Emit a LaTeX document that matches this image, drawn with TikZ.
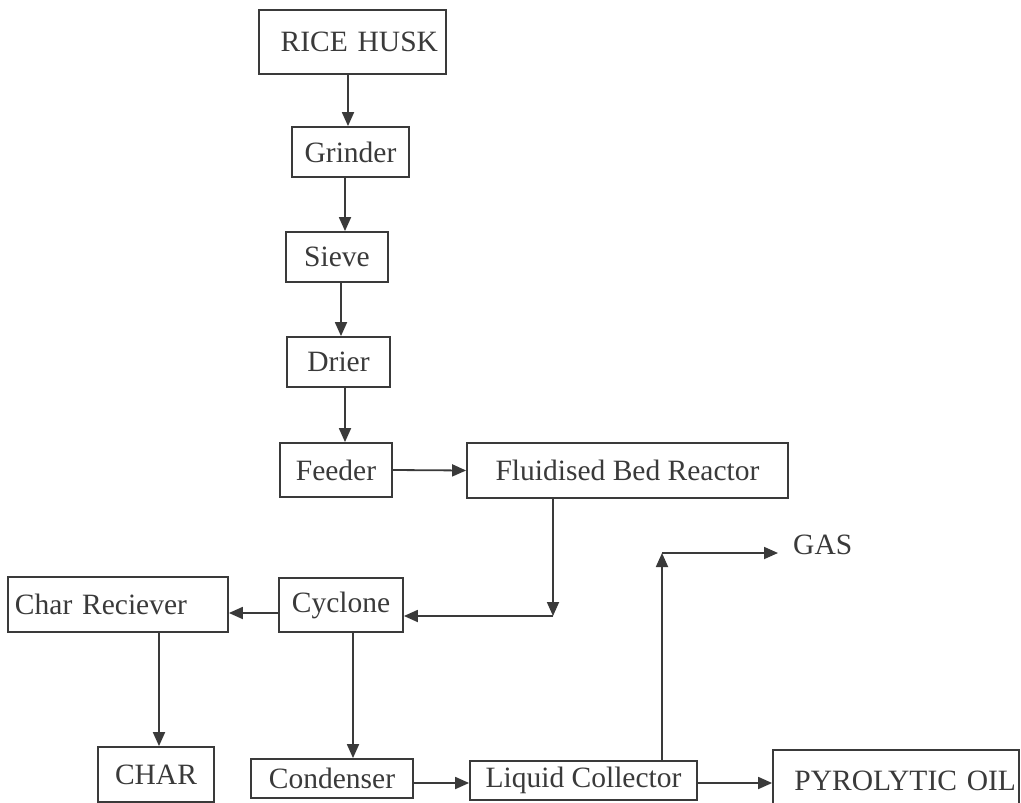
\documentclass[tikz,border=0pt]{standalone}
\usepackage{fontspec}
\setmainfont{Liberation Serif}
\usetikzlibrary{arrows.meta}
\definecolor{ink}{RGB}{58,58,58}
\begin{document}
\begin{tikzpicture}[x=1pt,y=-1pt,
  box/.style={draw=ink, line width=1.8pt, inner sep=0pt, text=ink, font=\fontsize{29.5}{34}\selectfont},
  conn/.style={draw=ink, line width=1.8pt, -{Triangle[length=14pt,width=12pt]}},
  lbl/.style={text=ink, inner sep=0pt, font=\fontsize{29.5}{34}\selectfont}]
\clip (0,0) rectangle (1021,803);
\fill[white] (0,0) rectangle (1021,803);

% boxes
\node[box, minimum height=64pt, text width=171pt, inner xsep=8pt, align=right] (rice) at (352.5,42) {RICE HUSK};
\node[box, minimum width=117pt, minimum height=50pt] (grinder) at (350.5,152) {Grinder};
\node[box, minimum width=102pt, minimum height=50pt] (sieve) at (337,257) {Sieve};
\node[box, minimum width=103pt, minimum height=50pt] (drier) at (338.5,362) {Drier};
\node[box, minimum width=112pt, minimum height=54pt] (feeder) at (336,470) {Feeder};
\node[box, minimum width=321pt, minimum height=55pt] (fbr) at (627.5,470.5) {Fluidised Bed Reactor};
\node[box, minimum width=124pt, minimum height=54pt] (cyc) at (341,605) {Cyclone};
\node[box, minimum height=55pt, text width=206pt, inner xsep=7pt, align=left] (charR) at (118,604.5) {Char Reciever};
\node[box, minimum width=116pt, minimum height=55pt] (charbox) at (156,774.5) {CHAR};
\node[box, minimum width=162pt, minimum height=39pt] (cond) at (332,778.5) {Condenser};
\node[box, minimum width=227pt, minimum height=39pt] (lc) at (583.5,780.5) {Liquid Collector};
\node[box, minimum height=62pt, text width=240pt, inner xsep=3pt, align=right] (pyro) at (896,781) {PYROLYTIC OIL};
\node[lbl, anchor=west] (gas) at (793,545) {GAS};

% guide coordinates
\coordinate (a1) at (348,0);
\coordinate (a2) at (345,0);
\coordinate (a3) at (341,0);
\coordinate (a4) at (345,0);
\coordinate (c1) at (553,616);
\coordinate (h1) at (0,613);
\coordinate (a5) at (159,0);
\coordinate (a6) at (353,0);
\coordinate (h2) at (0,783);
\coordinate (g1) at (662,553);
\coordinate (gt) at (778,553);

% connectors
\draw[conn] (rice.south -| a1) -- (grinder.north -| a1);
\draw[conn] (grinder.south -| a2) -- (sieve.north -| a2);
\draw[conn] (sieve.south -| a3) -- (drier.north -| a3);
\draw[conn] (drier.south -| a4) -- (feeder.north -| a4);
\draw[conn] (feeder.east) -- (fbr.west);
\draw[conn] (fbr.south -| c1) -- (c1);
\draw[conn] (c1) -- (c1 -| cyc.east);
\draw[conn] (cyc.west |- h1) -- (charR.east |- h1);
\draw[conn] (charR.south -| a5) -- (charbox.north -| a5);
\draw[conn] (cyc.south -| a6) -- (cond.north -| a6);
\draw[conn] (cond.east |- h2) -- (lc.west |- h2);
\draw[conn] (lc.east |- h2) -- (pyro.west |- h2);
\draw[conn] (lc.north -| g1) -- (g1);
\draw[conn] (g1) -- (gt);
\end{tikzpicture}
\end{document}
